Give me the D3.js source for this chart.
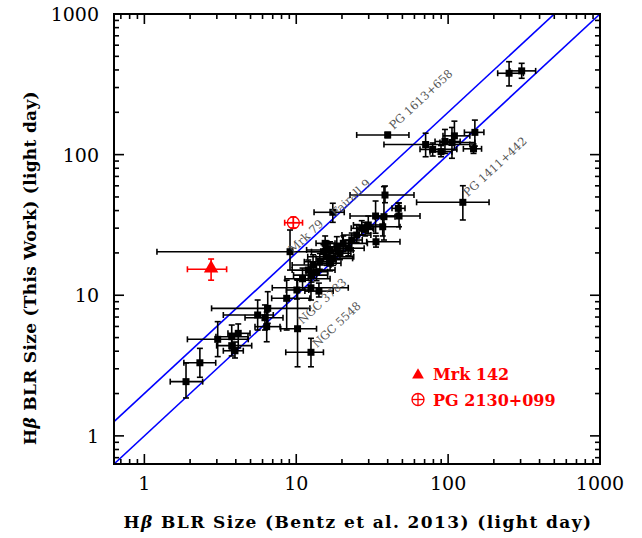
<!DOCTYPE html>
<html>
<head>
<meta charset="utf-8">
<script src="https://cdn.jsdelivr.net/npm/d3@7"></script>
<style>
  body { margin: 0; background: #fff; }
</style>
</head>
<body>
<div id="chart"></div>
<script>
// ---------------------------------- data (light days)
// reverberation sample: Bentz et al. 2013 (x) vs this work (y), errors as minus / plus
var names  = ["", "", "", "", "", "", "", "", "", "", "",
              "NGC 3783", "NGC 5548", "", "", "", "", "", "Mrk 79", "Fairall 9",
              "", "PG 1411+442", "", "", "", "", "", "",
              "", "", "", "", "", "", "", "", "", "", "", "", "", "", "", "", "", "", "", "",
              "", "", "PG 1613+658", "", "", "", "", "", "", "", ""];
var xVals  = [1.88, 2.32, 3.04, 3.76, 4.15, 3.76, 3.95, 5.57, 6.22, 6.39, 6.49,
              10.2, 12.5, 8.65, 12.5, 14.1, 11.0, 12.0, 9.10, 17.4,
              38.4, 125, 47.0, 47.5, 33.3, 37.8, 37.1, 33.5,
              29.8, 27.0, 25.0, 23.2, 20.4, 18.5, 16.7, 15.1, 15.9, 14.3, 16.7, 12.9, 13.6, 12.6, 22.0, 19.4, 17.5, 15.5, 28.4, 10.1,
              252, 305, 40.0, 71.1, 79.1, 89.8, 95.3, 110, 106, 150, 147];
var xMinus = [0.40, 0.50, 1.12, 0.80, 0.60, 0.77, 0.64, 2.26, 1.62, 1.04, 3.72,
              2.3, 3.97, 1.76, 5.55, 2.7, 2.57, 2.6, 7.89, 4.3,
              15.8, 63, 4.3, 13.6, 10.7, 4.8, 8.7, 4.4,
              6, 4, 5, 3, 4, 3, 5, 2.5, 4, 3, 2.5, 3.5, 2, 3, 4, 3, 4, 2, 3, 1.5,
              40, 50, 15, 33.3, 13.8, 13.8, 13.3, 17.5, 17.7, 22, 21];
var xPlus  = [0.54, 0.63, 1.79, 1.05, 0.81, 1.33, 0.53, 1.49, 1.96, 1.43, 5.81,
              3.4, 2.6, 3.65, 9.5, 3.4, 5.7, 6.0, 7.9, 3.3,
              21.2, 61, 5.0, 17.8, 14.9, 6.9, 11.1, 14.7,
              8, 5, 6, 4, 9, 4, 7, 3, 8, 4, 3, 4, 2.5, 3.5, 6, 3.5, 6, 2.5, 4, 2,
              61, 72, 15.2, 68, 35, 16, 24.7, 29, 44, 22, 19];
var yVals  = [2.43, 3.31, 4.86, 5.07, 5.36, 4.38, 4.03, 7.24, 6.92, 5.98, 8.07,
              5.78, 3.93, 9.51, 11.3, 10.7, 13.1, 15.1, 20.4, 38.9,
              51.6, 45.8, 41.5, 36.6, 36.6, 36.2, 30.7, 24.0,
              31.6, 29.9, 26.8, 24.7, 23.4, 22.1, 21.0, 20.4, 18.8, 17.3, 16.9, 16.4, 14.7, 13.9, 21.6, 19.9, 18.3, 23.4, 29.4, 10.9,
              379, 394, 138, 118, 109, 105, 124, 136, 122, 144, 110];
var yMinus = [0.57, 0.70, 1.20, 0.99, 1.14, 0.68, 0.45, 1.58, 1.26, 1.31, 1.75,
              2.68, 0.83, 3.85, 2.05, 0.98, 2.2, 2.3, 5.3, 5.9,
              6.1, 11.5, 3.7, 5.9, 9.0, 11.5, 4.3, 2.0,
              4, 3, 3, 4, 3, 2.5, 3, 3, 2.5, 2, 2, 2, 2, 1.5, 2.5, 2, 2, 2, 3, 1.5,
              71, 45, 6, 21.4, 11.3, 8.4, 22, 28, 27.8, 29, 8];
var yPlus  = [0.87, 0.88, 1.63, 1.07, 0.89, 0.59, 0.62, 2.01, 1.61, 1.62, 2.53,
              7.02, 1.01, 3.29, 2.2, 1.5, 2.5, 2.7, 8.7, 6.2,
              8.2, 14.3, 3.8, 8.7, 10.2, 23, 4.7, 2.4,
              5, 4, 5, 3, 3, 4, 3, 2.5, 3, 2.5, 2, 3, 2, 2, 3, 3, 2.5, 3, 3.5, 2,
              79, 52, 6, 24, 12, 11, 27, 37, 34, 32, 9];

// the two new objects (red)
var newNames  = ["Mrk 142", "PG 2130+099"];
var newX      = [2.75, 9.57];
var newXMinus = [0.83, 1.18];
var newXPlus  = [0.73, 1.43];
var newY      = [15.3, 32.8];
var newYMinus = [2.5, 2.7];
var newYPlus  = [2.8, 3.2];

// reference lines: y = factor * x
var lineFactors = [1, 2];
var xTickLabels = ["1", "10", "100", "1000"];
var yTickLabels = ["1", "10", "100", "1000"];

// ---------------------------------- layout
var width = 642, height = 538;
var pLeft = 114, pRight = 600, pTop = 14, pBottom = 464;
var lo = Math.pow(10, -0.2), hi = 1000;
var serif = "'DejaVu Serif', 'Liberation Serif', serif";

var svg = d3.select("#chart").append("svg")
    .attr("width", width)
    .attr("height", height);

var x = d3.scaleLog().domain([lo, hi]).range([pLeft, pRight]);
var y = d3.scaleLog().domain([lo, hi]).range([pBottom, pTop]);

svg.append("defs").append("clipPath").attr("id", "clip")
  .append("rect")
    .attr("x", pLeft).attr("y", pTop)
    .attr("width", pRight - pLeft).attr("height", pBottom - pTop);

var plot = svg.append("g").attr("clip-path", "url(#clip)");

// blue lines
lineFactors.forEach(function(f) {
  plot.append("line")
    .attr("x1", x(lo)).attr("y1", y(lo * f))
    .attr("x2", x(hi)).attr("y2", y(hi * f))
    .attr("stroke", "#0000ff")
    .attr("stroke-width", 1.6);
});

// error bars helper
function errorBars(g, xs, xm, xp, ys, ym, yp, colour) {
  var cap = 3;
  xs.forEach(function(xv, i) {
    var cx = x(xv), cy = y(ys[i]);
    var x0 = x(xv - xm[i]), x1 = x(xv + xp[i]);
    var y0 = y(ys[i] - ym[i]), y1 = y(ys[i] + yp[i]);
    var bar = g.append("g")
      .attr("stroke", colour)
      .attr("stroke-width", 1.6)
      .attr("fill", "none");
    bar.append("line").attr("x1", x0).attr("x2", x1).attr("y1", cy).attr("y2", cy);
    bar.append("line").attr("x1", x0).attr("x2", x0).attr("y1", cy - cap).attr("y2", cy + cap);
    bar.append("line").attr("x1", x1).attr("x2", x1).attr("y1", cy - cap).attr("y2", cy + cap);
    bar.append("line").attr("x1", cx).attr("x2", cx).attr("y1", y0).attr("y2", y1);
    bar.append("line").attr("x1", cx - cap).attr("x2", cx + cap).attr("y1", y0).attr("y2", y0);
    bar.append("line").attr("x1", cx - cap).attr("x2", cx + cap).attr("y1", y1).attr("y2", y1);
  });
}

errorBars(plot, xVals, xMinus, xPlus, yVals, yMinus, yPlus, "#000");

plot.selectAll("rect.pt")
  .data(xVals)
  .enter()
  .append("rect")
    .attr("class", "pt")
    .attr("x", function(d) { return x(d) - 3.5; })
    .attr("y", function(d, i) { return y(yVals[i]) - 3.5; })
    .attr("width", 7)
    .attr("height", 7)
    .attr("fill", "#000");

// object labels, rotated along the lines
var lineAngle = -Math.atan((y(1) - y(10)) / (x(10) - x(1))) * 180 / Math.PI;
var labelOffsets = {
  "PG 1613+658": [6, -5],
  "PG 1411+442": [5, -5],
  "Fairall 9": [3, 5],
  "Mrk 79": [3, 2],
  "NGC 3783": [5, -4],
  "NGC 5548": [6, -4]
};
names.forEach(function(n, i) {
  if (!n) return;
  var off = labelOffsets[n] || [5, -4];
  var px = x(xVals[i]) + off[0], py = y(yVals[i]) + off[1];
  svg.append("text")
    .attr("transform", "translate(" + px + "," + py + ") rotate(" + lineAngle + ")")
    .attr("font-family", serif)
    .attr("font-size", 11.5)
    .attr("fill", "#555")
    .text(n);
});

// red objects
var redG = svg.append("g");
errorBars(redG, newX, newXMinus, newXPlus, newY, newYMinus, newYPlus, "#ff0000");

// Mrk 142: filled triangle
redG.append("path")
  .attr("d", d3.symbol().type(d3.symbolTriangle).size(90))
  .attr("transform", "translate(" + x(newX[0]) + "," + (y(newY[0]) - 1) + ")")
  .attr("fill", "#ff0000");

// PG 2130+099: circled plus
function circlePlus(g, cx, cy, r) {
  g.append("circle").attr("cx", cx).attr("cy", cy).attr("r", r)
    .attr("fill", "none").attr("stroke", "#ff0000").attr("stroke-width", 1.3);
  g.append("line").attr("x1", cx - r).attr("x2", cx + r).attr("y1", cy).attr("y2", cy)
    .attr("stroke", "#ff0000").attr("stroke-width", 1.3);
  g.append("line").attr("x1", cx).attr("x2", cx).attr("y1", cy - r).attr("y2", cy + r)
    .attr("stroke", "#ff0000").attr("stroke-width", 1.3);
}
circlePlus(redG, x(newX[1]), y(newY[1]), 6);

// legend
var leg = svg.append("g");
leg.append("path")
  .attr("d", d3.symbol().type(d3.symbolTriangle).size(60))
  .attr("transform", "translate(418,375)")
  .attr("fill", "#ff0000");
circlePlus(leg, 418, 399.5, 6);
leg.selectAll("text")
  .data(newNames)
  .enter()
  .append("text")
    .attr("x", 433)
    .attr("y", function(d, i) { return 380 + i * 25.5; })
    .attr("font-family", serif)
    .attr("font-weight", "bold")
    .attr("font-size", 16)
    .attr("fill", "#ff0000")
    .text(function(d) { return d; });

// ---------------------------------- frame and ticks
svg.append("rect")
  .attr("x", pLeft).attr("y", pTop)
  .attr("width", pRight - pLeft).attr("height", pBottom - pTop)
  .attr("fill", "none")
  .attr("stroke", "#000")
  .attr("stroke-width", 2);

var tickVals = [];
for (var e = -1; e <= 3; e++) {
  for (var k = 1; k <= 9; k++) {
    var v = k * Math.pow(10, e);
    if (v >= lo && v <= hi + 1e-9) tickVals.push({v: v, major: k == 1});
  }
}
var ticks = svg.append("g").attr("stroke", "#000").attr("stroke-width", 1.6);
tickVals.forEach(function(t) {
  var len = t.major ? 10 : 5;
  var tx = x(t.v), ty = y(t.v);
  ticks.append("line").attr("x1", tx).attr("x2", tx).attr("y1", pBottom).attr("y2", pBottom - len);
  ticks.append("line").attr("x1", tx).attr("x2", tx).attr("y1", pTop).attr("y2", pTop + len);
  ticks.append("line").attr("y1", ty).attr("y2", ty).attr("x1", pLeft).attr("x2", pLeft + len);
  ticks.append("line").attr("y1", ty).attr("y2", ty).attr("x1", pRight).attr("x2", pRight - len);
});

var majors = tickVals.filter(function(t) { return t.major; });
svg.selectAll("text.xt")
  .data(majors)
  .enter()
  .append("text")
    .attr("class", "xt")
    .attr("x", function(d) { return x(d.v); })
    .attr("y", 490)
    .attr("text-anchor", "middle")
    .attr("font-family", serif)
    .attr("font-size", 19)
    .text(function(d, i) { return xTickLabels[i]; });

svg.selectAll("text.yt")
  .data(majors)
  .enter()
  .append("text")
    .attr("class", "yt")
    .attr("x", 99)
    .attr("y", function(d) { return y(d.v) + 7; })
    .attr("text-anchor", "end")
    .attr("font-family", serif)
    .attr("font-size", 19)
    .text(function(d, i) { return yTickLabels[i]; });

// axis titles
var xTitle = svg.append("text")
  .attr("x", 358)
  .attr("y", 528)
  .attr("text-anchor", "middle")
  .attr("font-family", serif)
  .attr("font-weight", "bold")
  .attr("font-size", 17)
  .attr("letter-spacing", 1.4);
xTitle.append("tspan").text("H");
xTitle.append("tspan").attr("font-style", "italic").text("β");
xTitle.append("tspan").text(" BLR Size (Bentz et al. 2013) (light day)");

var yTitle = svg.append("text")
  .attr("transform", "translate(36,268) rotate(-90)")
  .attr("text-anchor", "middle")
  .attr("font-family", serif)
  .attr("font-weight", "bold")
  .attr("font-size", 17)
  .attr("letter-spacing", 0.3);
yTitle.append("tspan").text("H");
yTitle.append("tspan").attr("font-style", "italic").text("β");
yTitle.append("tspan").text(" BLR Size (This Work) (light day)");
</script>
</body>
</html>
